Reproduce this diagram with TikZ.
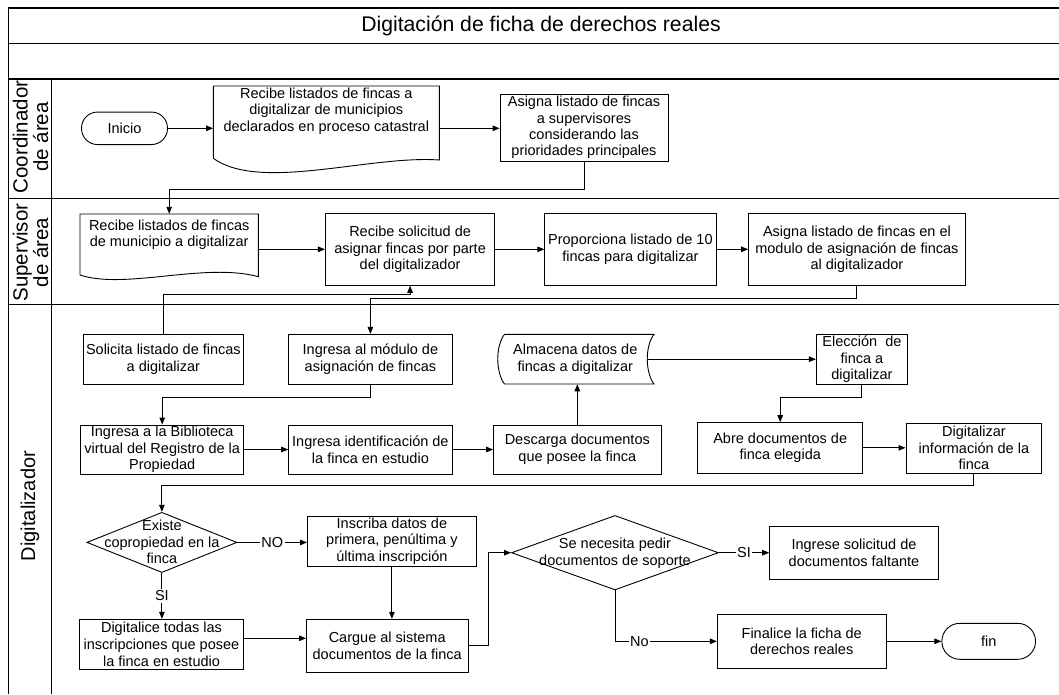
\documentclass[tikz,border=0pt]{standalone}
\usepackage{fontspec}
\setmainfont{Liberation Sans}
\usetikzlibrary{arrows.meta,shapes.geometric,calc}
\begin{document}
\begin{tikzpicture}[x=1pt,y=-1pt,
  base/.style={font=\fontsize{14.5}{16.6}\selectfont, align=center, inner sep=0pt},
  box/.style={base, draw, line width=0.9pt, rectangle},
  term/.style={base, draw, line width=0.9pt, rectangle, rounded corners=16pt},
  shapebox/.style={draw=none, rectangle, inner sep=0pt},
  txt/.style={base},
  conn/.style={line width=0.9pt},
  arr/.style={conn, -{Triangle[length=7pt,width=5.5pt]}},
  lbl/.style={base, fill=white, inner sep=1.5pt},
  dia/.style={diamond, draw, line width=0.9pt, inner sep=0pt},
  frame/.style={line width=1.2pt},
  lane/.style={font=\fontsize{20.5}{20.5}\selectfont, align=center, inner sep=0pt},
  titlestyle/.style={font=\fontsize{21.2}{24}\selectfont, inner sep=0pt}]

\useasboundingbox (0,0) rectangle (1059,694);
\fill[white] (0,0) rectangle (1059,694);

% frame
\draw[frame] (8.3,694) -- (8.3,8) -- (1060,8);
\draw[frame] (8.3,43.3) -- (1060,43.3);
\draw[frame] (8.3,79) -- (1060,79);
\draw[frame] (8.3,198.3) -- (1060,198.3);
\draw[frame] (8.3,304.3) -- (1060,304.3);
\draw[frame] (51.7,79) -- (51.7,694);

\node[titlestyle] (tt) at (541,25.5) {Digitación de ficha de derechos reales};
\node[lane, rotate=90] (lc) at (30.5,137) {Coordinador\\de área};
\node[lane, rotate=90] (ls) at (30.5,252.5) {Supervisor\\de área};
\node[lane, font=\fontsize{20}{20}\selectfont, rotate=90] (ld) at (30,506) {Digitalizador};

% Coordinador
\node[term, minimum width=86pt, minimum height=32.5pt] (inicio) at (124.5,128.3) {Inicio};
\node[shapebox, minimum width=226pt, minimum height=72.3pt] (doc1) at (326.3,122.2) {};
\draw[line width=0.9pt] (213.3,86) -- (439.3,86) -- (439.3,160) .. controls (370,155) and (260,192) .. (213.3,158.3) -- cycle;
\node[txt, font=\fontsize{14.5}{16.2}\selectfont] (doc1t) at (326.3,111.2) {Recibe listados de fincas a\\digitalizar de municipios\\declarados en proceso catastral};
\node[box, minimum width=168pt, minimum height=67pt, font=\fontsize{14.5}{16.2}\selectfont] (asig1) at (584,127.5) {Asigna listado de fincas\\a supervisores\\considerando las\\prioridades principales};

% Supervisor
\node[shapebox, minimum width=178.3pt, minimum height=61pt] (doc2) at (169.2,244.5) {};
\draw[line width=0.9pt] (80,214) -- (258.3,214) -- (258.3,276.7) .. controls (205,262) and (125,290) .. (80,275) -- cycle;
\node[txt, font=\fontsize{14.5}{16.2}\selectfont] (doc2t) at (169.2,234.8) {Recibe listados de fincas\\de municipio a digitalizar};
\node[box, minimum width=169.4pt, minimum height=72pt] (rsol) at (410.1,249.3) {Recibe solicitud de\\asignar fincas por parte\\del digitalizador};
\node[box, minimum width=171.2pt, minimum height=72pt] (prop) at (630.4,249.3) {Proporciona listado de 10\\fincas para digitalizar};
\node[box, minimum width=216.6pt, minimum height=72pt] (asig2) at (856.9,249.3) {Asigna listado de fincas en el\\modulo de asignación de fincas\\al digitalizador};

% Digitalizador
\node[box, minimum width=160.8pt, minimum height=49.7pt] (solic) at (163.4,359.2) {Solicita listado de fincas\\a digitalizar};
\node[box, minimum width=163.5pt, minimum height=49.7pt] (ingmod) at (370.4,359.2) {Ingresa al módulo de\\asignación de fincas};
\node[shapebox, minimum width=156.4pt, minimum height=49.7pt] (alm) at (575.8,359.2) {};
\draw[line width=0.9pt] (504.5,334.3) -- (654,334.3) .. controls (645,346) and (645,372) .. (654,384) -- (504.5,384) .. controls (495.5,372) and (495.5,346) .. cycle;
\node[txt] (almt) at (575.3,359) {Almacena datos de\\fincas a digitalizar};
\node[box, minimum width=91.1pt, minimum height=49.7pt] (elec) at (861.9,359.2) {Elección~ de\\finca a\\digitalizar};

\node[box, minimum width=163.2pt, minimum height=49pt] (bib) at (162.2,449.5) {Ingresa a la Biblioteca\\virtual del Registro de la\\Propiedad};
\node[box, minimum width=163.5pt, minimum height=49pt] (ingid) at (370.4,449.5) {Ingresa identificación de\\la finca en estudio};
\node[box, minimum width=167.5pt, minimum height=49pt] (desc) at (577.3,449.5) {Descarga documentos\\que posee la finca};
\node[box, minimum width=165pt, minimum height=50.3pt] (abre) at (780.2,447.8) {Abre documentos de\\finca elegida};
\node[box, minimum width=135.8pt, minimum height=49.7pt] (dig) at (973.9,448.2) {Digitalizar\\información de la\\finca};

\node[dia, minimum width=150.1pt, minimum height=60.2pt] (d1) at (161.9,542.4) {};
\node[txt] (d1t) at (161.9,542) {Existe\\copropiedad en la\\finca};
\node[box, minimum width=168.7pt, minimum height=50pt] (ins) at (391.9,541) {Inscriba datos de\\primera, penúltima y\\última inscripción};
\node[box, minimum width=164.6pt, minimum height=50pt] (digt) at (161.5,644.3) {Digitalice todas las\\inscripciones que posee\\la finca en estudio};
\node[box, minimum width=161.5pt, minimum height=53pt] (carg) at (387.2,645.8) {Cargue al sistema\\documentos de la finca};
\node[dia, minimum width=207pt, minimum height=74.5pt] (d2) at (615,552.7) {};
\node[txt] (d2t) at (615,553.3) {Se necesita pedir\\documentos de soporte};
\node[box, minimum width=168.7pt, minimum height=52.6pt] (ingr) at (854,553) {Ingrese solicitud de\\documentos faltante};
\node[box, minimum width=168.7pt, minimum height=53.4pt] (fin1) at (801.7,641.3) {Finalice la ficha de\\derechos reales};
\node[term, rounded corners=18pt, minimum width=93.7pt, minimum height=36pt] (fin) at (988.7,641.3) {fin};

% connectors
\draw[arr] (inicio.east) -- (doc1.west |- inicio.east);
\draw[arr] (doc1.east |- inicio.east) -- (asig1.west |- inicio.east);
\draw[arr] (asig1.south) -- ++(0,27.7) -| (doc2.north);
\draw[arr] (doc2.east |- rsol.west) -- (rsol.west);
\draw[arr] (rsol.east) -- (prop.west);
\draw[arr] (prop.east) -- (asig2.west);
\draw[arr] (asig2.south) -- ++(0,13) -| (ingmod.north);
\draw[arr] (solic.north) -- ++(0,-39.3) -| (rsol.south);
\draw[arr] (ingmod.south) -- ++(0,13.3) -| (bib.north);
\draw[arr] (bib.east) -- (ingid.west);
\draw[arr] (ingid.east) -- (desc.west);
\draw[arr] (desc.north) -- (desc.north |- alm.south);
\draw[arr] ([xshift=-6.8pt]alm.east) -- (elec.west);
\draw[arr] (elec.south) -- ++(0,13.3) -| (abre.north);
\draw[arr] (abre.east) -- (abre.east -| dig.west);
\draw[arr] (dig.south) -- ++(0,12) -| (d1.north);
\draw[arr] (d1.east) -- node[lbl]{NO} (d1.east -| ins.west);
\draw[arr] (d1.south) -- node[lbl]{SI} (d1.south |- digt.north);
\draw[arr] (ins.south) -- (ins.south |- carg.north);
\draw[arr] ([yshift=6pt]digt.east) -- ([yshift=6pt]digt.east -| carg.west);
\draw[arr] (carg.east) -- ++(20.3,0) |- (d2.west);
\draw[arr] (d2.east) -- node[lbl]{SI} (d2.east -| ingr.west);
\draw[arr] (d2.south) |- node[lbl,pos=0.62]{No} (fin1.west);
\draw[arr] (fin1.east) -- (fin.west);
\end{tikzpicture}
\end{document}
